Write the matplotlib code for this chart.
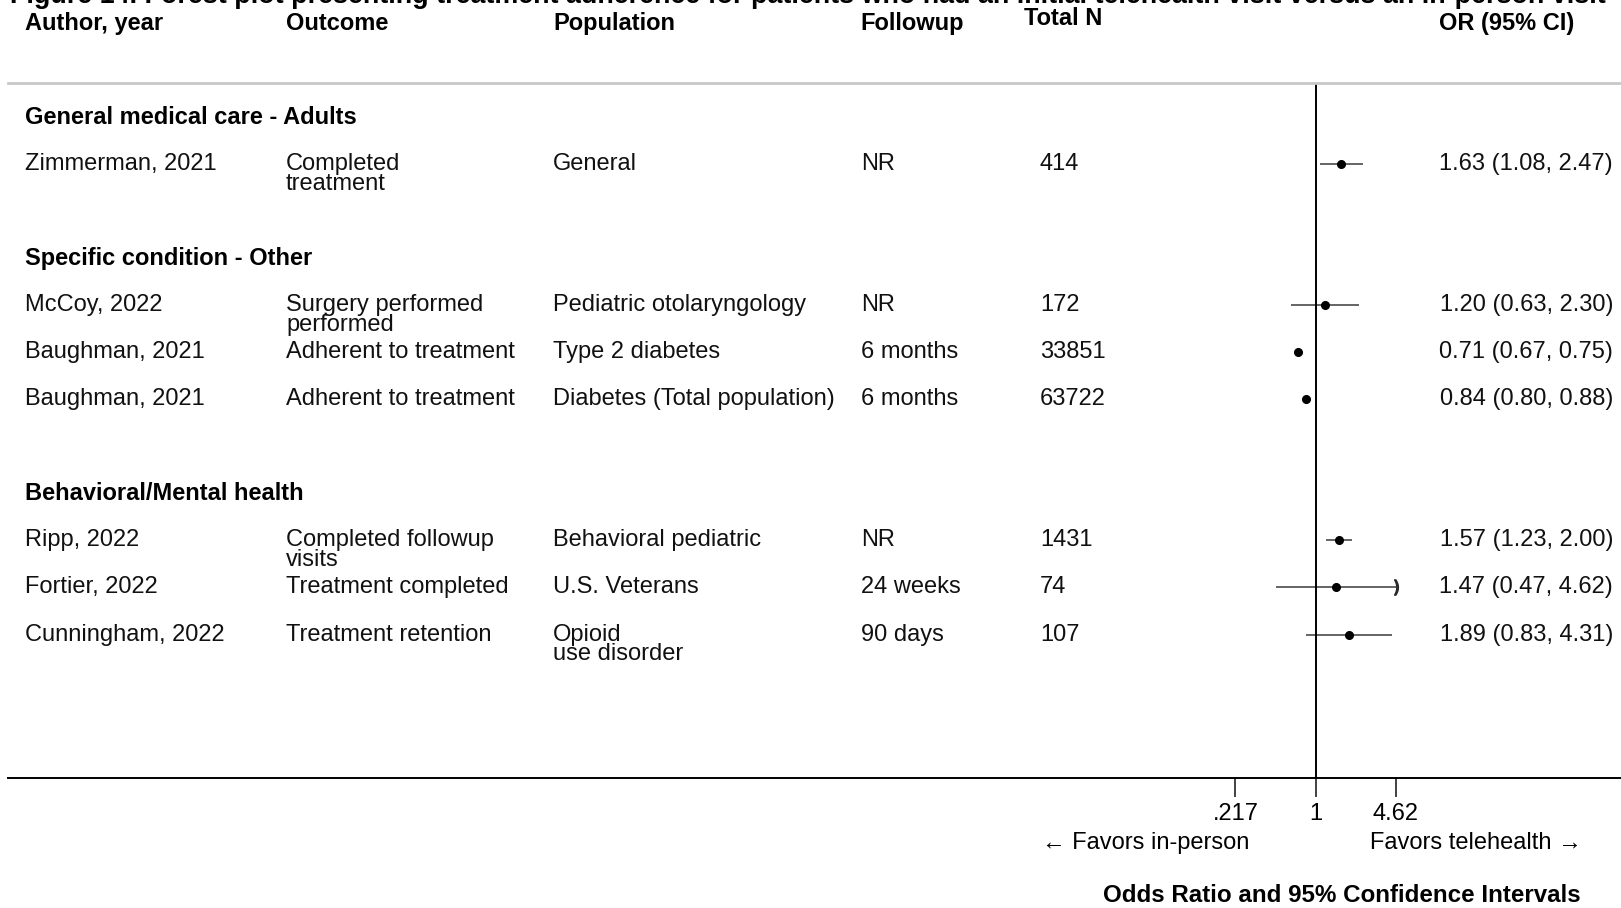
"""
Forest plot: treatment adherence, initial telehealth vs in-person visit.
"""

import numpy as np
import matplotlib
matplotlib.use('Agg')
import matplotlib.pyplot as plt
from matplotlib.transforms import blended_transform_factory
from matplotlib.ticker import NullLocator

plt.rcParams['font.family'] = ['Liberation Sans', 'DejaVu Sans']

TITLE = ("Figure 14. Forest plot presenting treatment adherence for patients who had "
         "an initial telehealth visit versus an in-person visit")

header_labels = ["Author, year", "Outcome", "Population", "Followup", "Total N", "OR (95% CI)"]

groups = ["General medical care - Adults", "Specific condition - Other", "Behavioral/Mental health"]
group_sizes = [1, 3, 3]

authors = ["Zimmerman, 2021", "McCoy, 2022", "Baughman, 2021", "Baughman, 2021",
           "Ripp, 2022", "Fortier, 2022", "Cunningham, 2022"]
outcomes = ["Completed\ntreatment", "Surgery performed\nperformed", "Adherent to treatment",
            "Adherent to treatment", "Completed followup\nvisits", "Treatment completed",
            "Treatment retention"]
populations = ["General", "Pediatric otolaryngology", "Type 2 diabetes",
               "Diabetes (Total population)", "Behavioral pediatric", "U.S. Veterans",
               "Opioid\nuse disorder"]
followups = ["NR", "NR", "6 months", "6 months", "NR", "24 weeks", "90 days"]
total_n = [414, 172, 33851, 63722, 1431, 74, 107]

odds_ratio = [1.63, 1.20, 0.71, 0.84, 1.57, 1.47, 1.89]
ci_low = [1.08, 0.63, 0.67, 0.80, 1.23, 0.47, 0.83]
ci_high = [2.47, 2.30, 0.75, 0.88, 2.00, 4.62, 4.31]

axis_ticks = [0.217, 1, 4.62]
axis_tick_labels = [".217", "1", "4.62"]

# figure geometry in pixels
W, H = 1621, 908
ROW0, ROW_H = 23, 47.04          # header row centre and row pitch
X_ONE, PX_PER_LN = 1315.6, 52.45  # position of OR = 1 and log scale
BODY = 17
HEAD = 17


def fx(px):
    return px / W


def fy(py):
    return 1 - py / H


def row_of(py):
    return (py - ROW0) / ROW_H


fig = plt.figure(figsize=(W / 100, H / 100), dpi=100)
fig.patch.set_facecolor('white')

ax = fig.add_axes([fx(8), fy(778), 1 - fx(8), fy(83) - fy(778)])
ax.set_xscale('log')
ax.set_xlim(np.exp((8 - X_ONE) / PX_PER_LN), np.exp((W - X_ONE) / PX_PER_LN))
ax.set_ylim(row_of(778), row_of(83))
ax.patch.set_alpha(0)

# text columns: x in figure pixels, y in rows
blend = blended_transform_factory(fig.transFigure, ax.transData)

# layout rows: group heading, its studies, then a blank row
group_rows, study_rows = [], []
r = 2
for size in group_sizes:
    group_rows.append(r)
    study_rows.extend(range(r + 1, r + 1 + size))
    r += size + 2

# column headers
header_x = [25, 286, 553, 860, 1024]
header_dy = [0, 0, 0, 0, -0.1]
for label, x, dy in zip(header_labels[:5], header_x, header_dy):
    ax.text(fx(x), dy, label, transform=blend, va='center', ha='left',
            fontsize=HEAD, fontweight='heavy', clip_on=False)
ax.text(fx(1574), 0, header_labels[5], transform=blend, va='center', ha='right',
        fontsize=HEAD, fontweight='heavy', clip_on=False)

for g, gr in zip(groups, group_rows):
    ax.text(fx(25), gr, g, transform=blend, va='center', ha='left',
            fontsize=BODY, fontweight='bold')

LINE_GAP = 19.6 / ROW_H


def cell(x, row, s, ha='left'):
    for k, line in enumerate(s.split('\n')):
        ax.text(fx(x), row + k * LINE_GAP, line, transform=blend, va='center', ha=ha,
                fontsize=BODY, color='#111111')


for i, row in enumerate(study_rows):
    cell(25, row, authors[i])
    cell(286, row, outcomes[i])
    cell(553, row, populations[i])
    cell(861, row, followups[i])
    cell(1040, row, str(total_n[i]))
    cell(1613, row, f"{odds_ratio[i]:.2f} ({ci_low[i]:.2f}, {ci_high[i]:.2f})", ha='right')

    ax.plot([ci_low[i], ci_high[i]], [row, row], color='#3a3a3a', lw=1.1, solid_capstyle='butt')
    if ci_high[i] >= max(axis_ticks):
        ax.plot(ci_high[i], row, marker='$)$', color='#2a2a2a', ms=11)
    ax.plot(odds_ratio[i], row, marker='o', color='black', ms=5.5)

# null line
ax.axvline(1, color='black', lw=1.4)

# axes frame
for side in ['left', 'right']:
    ax.spines[side].set_visible(False)
ax.spines['top'].set_color('#c8c8c8')
ax.spines['top'].set_linewidth(2.0)
ax.spines['bottom'].set_color('black')
ax.spines['bottom'].set_linewidth(1.4)

ax.set_yticks([])
ax.set_xticks(axis_ticks)
ax.set_xticklabels(axis_tick_labels)
ax.xaxis.set_minor_locator(NullLocator())
ax.tick_params(axis='x', direction='out', length=14, width=1.3, color='#333333',
               pad=4, labelsize=BODY)

ax.text(fx(1249), row_of(843), "\u2190 Favors in-person", transform=blend,
        ha='right', va='center', fontsize=BODY)
ax.text(fx(1370), row_of(843), "Favors telehealth \u2192", transform=blend,
        ha='left', va='center', fontsize=BODY)
ax.text(fx(1342), row_of(895), "Odds Ratio and 95% Confidence Intervals", transform=blend,
        ha='center', va='center', fontsize=17.4, fontweight='heavy')

fig.text(fx(10), fy(3), TITLE, ha='left', va='baseline', fontsize=19.4, fontweight='bold')

fig.savefig('out.png', dpi=100, facecolor='white')
plt.close(fig)
